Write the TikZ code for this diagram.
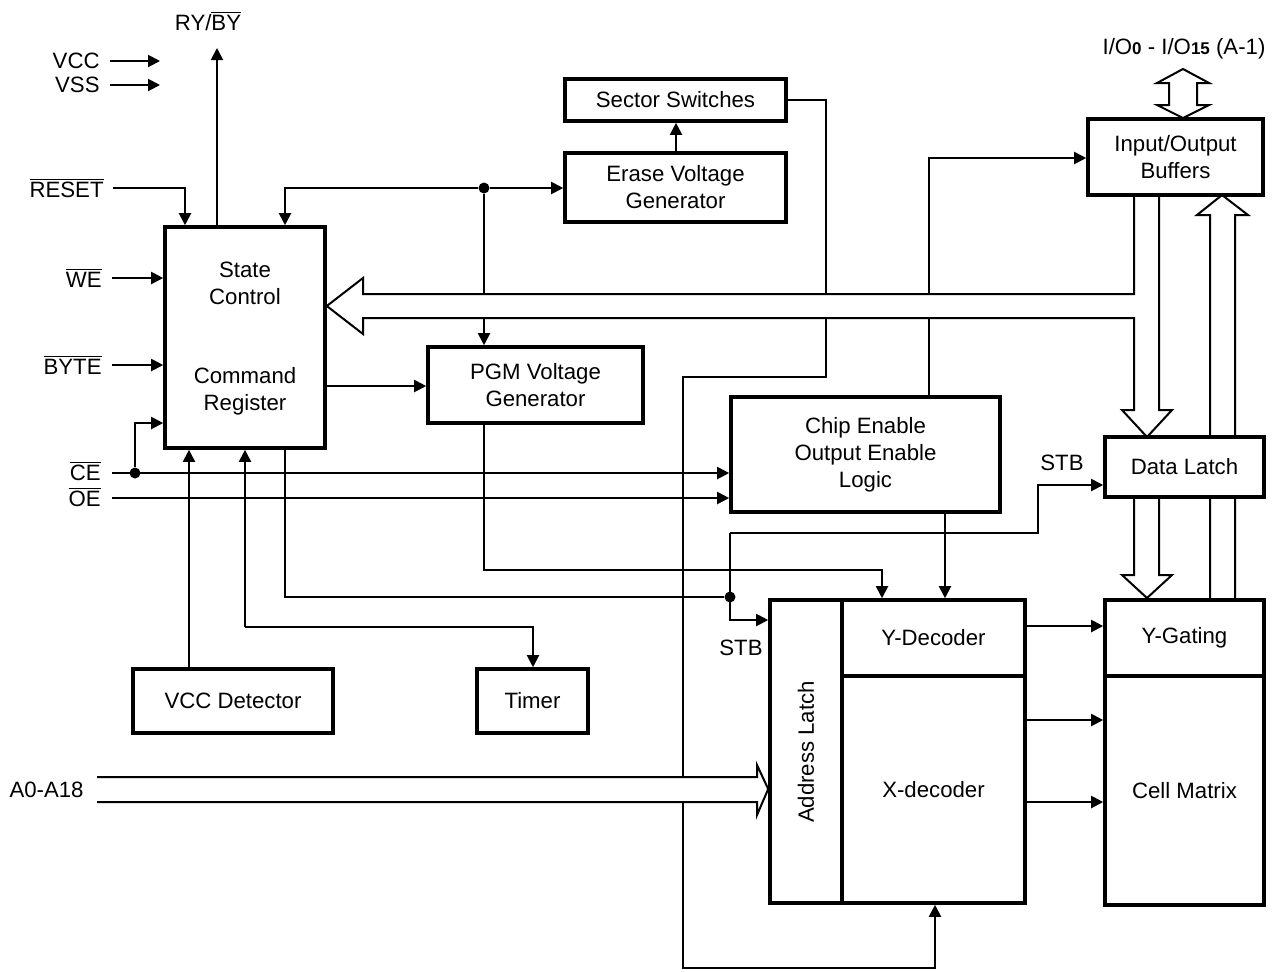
\documentclass[tikz,border=0pt]{standalone}
\usepackage{fontspec}
\setmainfont{Liberation Sans}
\usetikzlibrary{arrows.meta,calc}
\newcommand{\ovl}[1]{$\overline{\mbox{#1}}$}
\begin{document}
\begin{tikzpicture}[x=0.5pt,y=-0.5pt,
 every node/.style={font=\fontsize{11.1}{13.5}\selectfont},
 box/.style={draw, line width=1.8pt, fill=white, inner sep=0pt, align=center},
 wire/.style={line width=1pt},
 arr/.style={wire, -{Triangle[length=6pt,width=6pt]}},
 hollow/.style={line width=1pt, line join=miter},
 lbl/.style={inner sep=0pt, align=center},
 dot/.style={circle, fill, inner sep=0pt, minimum size=5.5pt}]
\useasboundingbox (0,0) rectangle (1279,971);

% ---------- hollow bus arrows (behind boxes) ----------
\draw[hollow] (1210,600) -- (1210,215) -- (1197,215) -- (1222,195) -- (1248,215) -- (1235,215) -- (1235,600);

% ---------- boxes ----------
\node[box, minimum width=80pt, minimum height=110.5pt] (sc) at (245,337.5) {};
\node[lbl] (sctxt1) at (245,283) {State\\Control};
\node[lbl] (sctxt2) at (245,391) {Command\\Register};
\node[box, minimum width=110.5pt, minimum height=21pt] (ss) at (675.5,100) {Sector Switches};
\node[box, minimum width=110.5pt, minimum height=34.5pt] (ev) at (675.5,187.5) {Erase Voltage\\Generator};
\node[box, minimum width=107.5pt, minimum height=38pt] (pgm) at (535.5,385) {PGM Voltage\\Generator};
\node[box, minimum width=134.5pt, minimum height=57.5pt] (ce) at (865.5,454.5) {Chip Enable\\Output Enable\\Logic};
\node[box, minimum width=87.5pt, minimum height=38pt] (io) at (1175.5,157) {Input/Output\\Buffers};
\node[box, minimum width=79.5pt, minimum height=30pt] (dl) at (1184.5,467) {Data Latch};
\node[box, minimum width=79.5pt, minimum height=38pt] (yg) at (1184.5,638) {Y-Gating};
\node[box, minimum width=79.5pt, minimum height=114.5pt] (cm) at (1184.5,790.5) {Cell Matrix};
\node[box, minimum width=36pt, minimum height=151.5pt] (al) at (806,751.5) {};
\node[lbl, rotate=90] (altxt) at (806,752) {Address Latch};
\node[box, minimum width=91.5pt, minimum height=38pt] (yd) at (933.5,638) {Y-Decoder};
\node[box, minimum width=91.5pt, minimum height=113.5pt] (xd) at (933.5,789.5) {X-decoder};
\node[box, minimum width=100pt, minimum height=32pt] (vd) at (233,701) {VCC Detector};
\node[box, minimum width=55.5pt, minimum height=32pt] (tm) at (532.5,701) {Timer};

% ---------- hollow arrows ----------
\draw[hollow] (io.south -| 1159,0) -- (1159,410) -- (1172,410) -- (1147,437) -- (1122,410) -- (1134,410) -- (1134,318)
  -- (363,318) -- (363,334) -- (sc.east |- 0,306) -- (363,278) -- (363,294) -- (1134,294) -- (io.south -| 1134,0);
\draw[hollow] (dl.south -| 1134,0) -- (1134,575) -- (1122,575) -- (1147,598) -- (1172,575) -- (1159,575) -- (dl.south -| 1159,0);
\draw[hollow] (1183,69) -- (1209,83) -- (1197,83) -- (1197,105) -- (1209,105) -- (1183,118) -- (1157,105) -- (1169,105) -- (1169,83) -- (1157,83) -- cycle;
\draw[hollow] (97,777) -- (757,777) -- (757,765) -- (al.west |- 0,789) -- (757,815) -- (757,802) -- (97,802);

% ---------- labels ----------
\node[lbl, anchor=east] (vcc) at (100,61) {VCC};
\node[lbl, anchor=east] (vss) at (100,85) {VSS};
\node[lbl] (ryby) at (208,21) {RY/\ovl{BY}};
\node[lbl, anchor=east] (rst) at (104,188) {\ovl{RESET}};
\node[lbl, anchor=east] (we) at (102,278) {\ovl{WE}};
\node[lbl, anchor=east] (byte) at (102,365) {\ovl{BYTE}};
\node[lbl, anchor=east] (cel) at (101,471) {\ovl{CE}};
\node[lbl, anchor=east] (oel) at (101,497) {\ovl{OE}};
\node[lbl, anchor=east] (addr) at (84,790) {A0-A18};
\node[lbl] (stb1) at (741,648) {STB};
\node[lbl] (stb2) at (1062,463) {STB};
\node[lbl] (iol) at (1184,49) {I/O{\fontsize{8.5}{10}\bfseries\selectfont 0} - I/O{\fontsize{8.5}{10}\bfseries\selectfont 15} (A-1)};

% ---------- wires ----------
\coordinate (vccs) at (110,61); \coordinate (vcce) at (160,61);
\coordinate (vsss) at (110,85); \coordinate (vsse) at (160,85);
\draw[arr] (vccs) -- (vcce);
\draw[arr] (vsss) -- (vsse);
\draw[arr] (113,188) -- (185,188) -- (185,0 |- sc.north);
\draw[arr] (217,0 |- sc.north) -- (217,48);
\draw[arr] (112,278) -- (sc.west |- 0,278);
\draw[arr] (112,365) -- (sc.west |- 0,365);
\draw[arr] (112,473) -- (ce.west |- 0,473);
\draw[arr] (112,498) -- (ce.west |- 0,498);
\node[dot] (d1) at (135,473) {};
\draw[arr] (d1) -- (135,423) -- (sc.west |- 0,423);

\node[dot] (d2) at (484,188) {};
\draw[arr] (d2) -- (285,188) -- (285,0 |- sc.north);
\draw[arr] (d2) -- (ev.west |- d2);
\draw[wire] (d2) -- (484,294);
\draw[arr] (484,318) -- (484,0 |- pgm.north);
\draw[arr] (676,0 |- ev.north) -- (676,0 |- ss.south);

\draw[wire] (ss.east) -- (826,100) -- (826,294);
\draw[wire] (826,318) -- (826,377) -- (683,377) -- (683,777);
\draw[arr] (683,802) -- (683,968) -- (935,968) -- (935,0 |- xd.south);

\draw[wire] (929,0 |- ce.north) -- (929,318);
\draw[arr] (929,294) -- (929,158) -- (io.west |- 0,158);

\draw[arr] (sc.east |- 0,386) -- (pgm.west |- 0,386);
\draw[arr] (484,0 |- pgm.south) -- (484,570) -- (882,570) -- (882,0 |- yd.north);
\draw[arr] (945,0 |- ce.south) -- (945,0 |- yd.north);

\node[dot] (d3) at (730,597) {};
\draw[wire] (285,0 |- sc.south) -- (285,597) -- (d3);
\draw[arr] (730,533) -- (730,620) -- (al.west |- 0,620);
\draw[arr] (730,533) -- (1038,533) -- (1038,485) -- (dl.west |- 0,485);

\draw[arr] (245,627) -- (245,0 |- sc.south);
\draw[arr] (245,627) -- (533,627) -- (533,0 |- tm.north);
\draw[arr] (189,0 |- vd.north) -- (189,0 |- sc.south);

\draw[arr] (yd.east |- 0,626) -- (yg.west |- 0,626);
\draw[arr] (xd.east |- 0,720) -- (cm.west |- 0,720);
\draw[arr] (xd.east |- 0,802) -- (cm.west |- 0,802);
\end{tikzpicture}
\end{document}
